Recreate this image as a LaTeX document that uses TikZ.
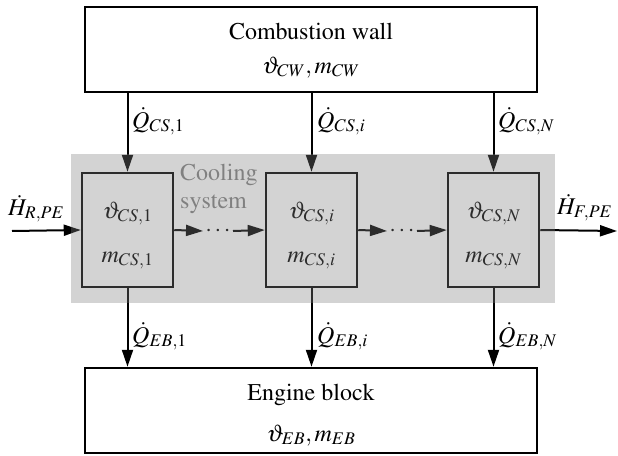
\documentclass[tikz,border=0pt]{standalone}
\usepackage[T1]{fontenc}
\usepackage{mathptmx}
\usetikzlibrary{arrows.meta}
\begin{document}
\begin{tikzpicture}[x=1pt,y=-1pt,
  every node/.style={font=\fontsize{24}{28}\selectfont, inner sep=0pt},
  bigbox/.style={draw, line width=2.5pt, minimum width=452pt, minimum height=85pt},
  csbox/.style={draw, line width=2.5pt, minimum width=91pt, minimum height=114pt},
  flow/.style={line width=2pt, -{Triangle[length=17pt,width=11pt]}},
  txt/.style={anchor=base},
  lbl/.style={anchor=base west}]
\useasboundingbox (0,0) rectangle (618,455);
% big boxes
\node[bigbox] (cw) at (311,49.5) {};
\node[bigbox, minimum height=85pt] (eb) at (311,410.5) {};
\node[txt] (cwt1) at (311,39) {Combustion wall};
\node[txt] (cwt2) at (311,73) {$\vartheta_{CW}, m_{CW}$};
\node[txt] (ebt1) at (311,400) {Engine block};
\node[txt] (ebt2) at (311,441) {$\vartheta_{EB}, m_{EB}$};
% cooling system boxes
\node[csbox] (cs1) at (127.5,230) {};
\node[csbox] (csi) at (311.5,230) {};
\node[csbox] (csN) at (493.5,230) {};
\node[txt] (cs1a) at (127.5,218) {$\vartheta_{CS,1}$};
\node[txt] (cs1b) at (127.5,262) {$m_{CS,1}$};
\node[txt] (csia) at (311.5,218) {$\vartheta_{CS,i}$};
\node[txt] (csib) at (311.5,262) {$m_{CS,i}$};
\node[txt] (csNa) at (493.5,218) {$\vartheta_{CS,N}$};
\node[txt] (csNb) at (493.5,262) {$m_{CS,N}$};
\node[lbl, text=black!50] (cool1) at (180,180) {Cooling};
\node[lbl, text=black!50] (cool2) at (180,208) {system};
% heat flows from combustion wall
\draw[flow] (cw.south -| cs1.north) -- (cs1.north);
\draw[flow] (cw.south -| csi.north) -- (csi.north);
\draw[flow] (cw.south -| csN.north) -- (csN.north);
\node[lbl] (q1) at (132,128) {$\dot Q_{CS,1}$};
\node[lbl] (qi) at (317,128) {$\dot Q_{CS,i}$};
\node[lbl] (qN) at (498,128) {$\dot Q_{CS,N}$};
% heat flows to engine block
\draw[flow] (cs1.south) -- (eb.north -| cs1.south);
\draw[flow] (csi.south) -- (eb.north -| csi.south);
\draw[flow] (csN.south) -- (eb.north -| csN.south);
\node[lbl] (e1) at (132,343) {$\dot Q_{EB,1}$};
\node[lbl] (ei) at (317,343) {$\dot Q_{EB,i}$};
\node[lbl] (eN) at (498,343) {$\dot Q_{EB,N}$};
% enthalpy flows
\coordinate (hin) at (12,231);
\coordinate (hout) at (617,231);
\draw[flow] (hin) -- (cs1.west);
\draw[flow] (csN.east) -- (hout);
\node[lbl] (hr) at (8,215) {$\dot H_{R,PE}$};
\node[lbl] (hf) at (557,214) {$\dot H_{F,PE}$};
% chain between boxes
\coordinate (t1) at (203,231);
\coordinate (s1) at (233,231);
\coordinate (t2) at (387,231);
\coordinate (s2) at (417,231);
\node (d1) at (218,231) {$\cdots$};
\node (d2) at (402,231) {$\cdots$};
\draw[flow] (cs1.east) -- (t1);
\draw[flow] (s1) -- (csi.west);
\draw[flow] (csi.east) -- (t2);
\draw[flow] (s2) -- (csN.west);
% grey cooling-system region
\fill[black!50, fill opacity=0.35] (71,154) rectangle (555,303);
\end{tikzpicture}
\end{document}
